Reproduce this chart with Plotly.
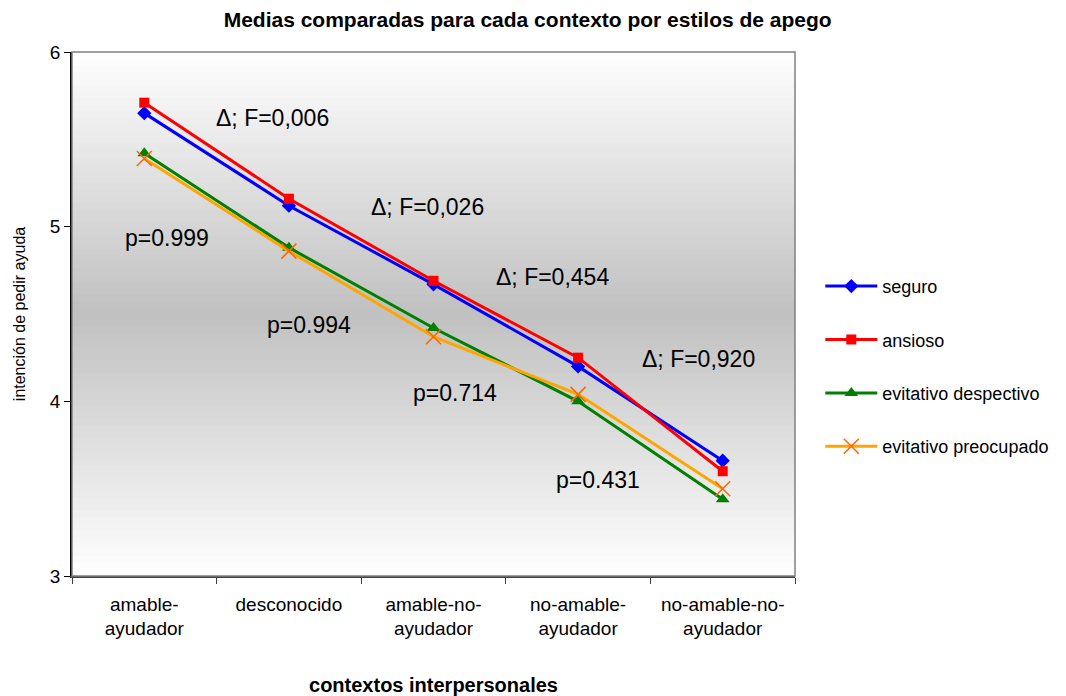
import plotly.graph_objects as go

categories = ["amable-<br>ayudador", "desconocido", "amable-no-<br>ayudador",
              "no-amable-<br>ayudador", "no-amable-no-<br>ayudador"]
seguro = [5.65, 5.12, 4.67, 4.20, 3.66]
ansioso = [5.71, 5.16, 4.69, 4.25, 3.60]
evitativo_despectivo = [5.42, 4.88, 4.42, 4.00, 3.44]
evitativo_preocupado = [5.39, 4.86, 4.37, 4.04, 3.50]

delta_labels = ["Δ; F=0,006", "Δ; F=0,026", "Δ; F=0,454", "Δ; F=0,920"]
delta_pos = [(0.885, 5.62), (1.957, 5.11), (2.82, 4.71), (3.83, 4.24)]
p_labels = ["p=0.999", "p=0.994", "p=0.714", "p=0.431"]
p_pos = [(0.16, 4.935), (1.14, 4.437), (2.15, 4.047), (3.14, 3.55)]

FONT = "Liberation Sans, Arial, sans-serif"

fig = go.Figure()
series = [
    ("seguro", seguro, "#0000FF", dict(symbol="diamond", size=11, color="#0000FF")),
    ("ansioso", ansioso, "#FF0000", dict(symbol="square", size=10, color="#FF0000")),
    ("evitativo despectivo", evitativo_despectivo, "#008000",
     dict(symbol="triangle-up", size=12, color="#008000")),
    ("evitativo preocupado", evitativo_preocupado, "#FFA500",
     dict(symbol="x-thin", size=15, color="#FF6600", line=dict(color="#FF6600", width=1.5))),
]
for i, (name, vals, col, mk) in enumerate(series):
    fig.add_trace(go.Scatter(x=categories, y=vals, name=name, mode="lines+markers",
                             line=dict(color=col, width=3), marker=mk,
                             legendgroup=str(i)))

# gradient background: white -> gray -> white
N = 80
shapes = []
for k in range(N):
    f0 = k / N
    f1 = (k + 1) / N
    fm = (f0 + f1) / 2
    d = abs(fm - 0.5) / 0.5
    g = int(round(192 + (255 - 192) * d))
    col = f"rgb({g},{g},{g})"
    shapes.append(dict(type="rect", xref="x domain", yref="y domain",
                       x0=0, x1=1, y0=f0, y1=f1 + 0.002, fillcolor=col,
                       line=dict(width=0), layer="below"))
shapes.append(dict(type="rect", xref="x domain", yref="y domain", x0=0, x1=1, y0=0, y1=1,
                   line=dict(color="#808080", width=1.5), fillcolor="rgba(0,0,0,0)", layer="above"))

annotations = []
for t, (x, y) in zip(delta_labels + p_labels, delta_pos + p_pos):
    annotations.append(dict(x=x, y=y, xref="x", yref="y", text=t, showarrow=False,
                            font=dict(family=FONT, size=23, color="black")))

fig.update_layout(
    width=1066, height=696,
    margin=dict(l=72, r=271, t=52, b=120, autoexpand=False),
    paper_bgcolor="white", plot_bgcolor="white",
    font=dict(family=FONT, color="black"),
    title=dict(text="<b>Medias comparadas para cada contexto por estilos de apego</b>",
               x=0.495, xanchor="center", y=0.972, yanchor="middle",
               font=dict(family=FONT, size=21, color="black")),
    showlegend=True,
    legend=dict(x=1.035, xanchor="left", y=0.40, yanchor="middle",
                font=dict(family=FONT, size=18, color="black"),
                itemwidth=52,
                tracegroupgap=27, bgcolor="rgba(0,0,0,0)"),
    shapes=shapes,
    annotations=annotations,
    xaxis=dict(type="category", range=[-0.5, 4.5], showgrid=False, zeroline=False,
               tickson="boundaries", automargin=False,
               showline=True, linecolor="#404040", linewidth=1.5,
               ticks="outside", ticklen=6, tickcolor="#404040",
               ticklabelstandoff=10,
               tickfont=dict(family=FONT, size=19, color="black"),
               title=dict(text="<b>contextos interpersonales</b>", standoff=40,
                          font=dict(family=FONT, size=20, color="black"))),
    yaxis=dict(range=[3, 6], tickvals=[3, 4, 5, 6], showgrid=False, zeroline=False,
               automargin=False,
               showline=True, linecolor="black", linewidth=1.5,
               ticks="outside", ticklen=6, tickcolor="black",
               tickfont=dict(family=FONT, size=19, color="black"),
               title=dict(text="intención de pedir ayuda", standoff=20,
                          font=dict(family=FONT, size=16, color="black"))),
)

fig.write_html("out.html")
